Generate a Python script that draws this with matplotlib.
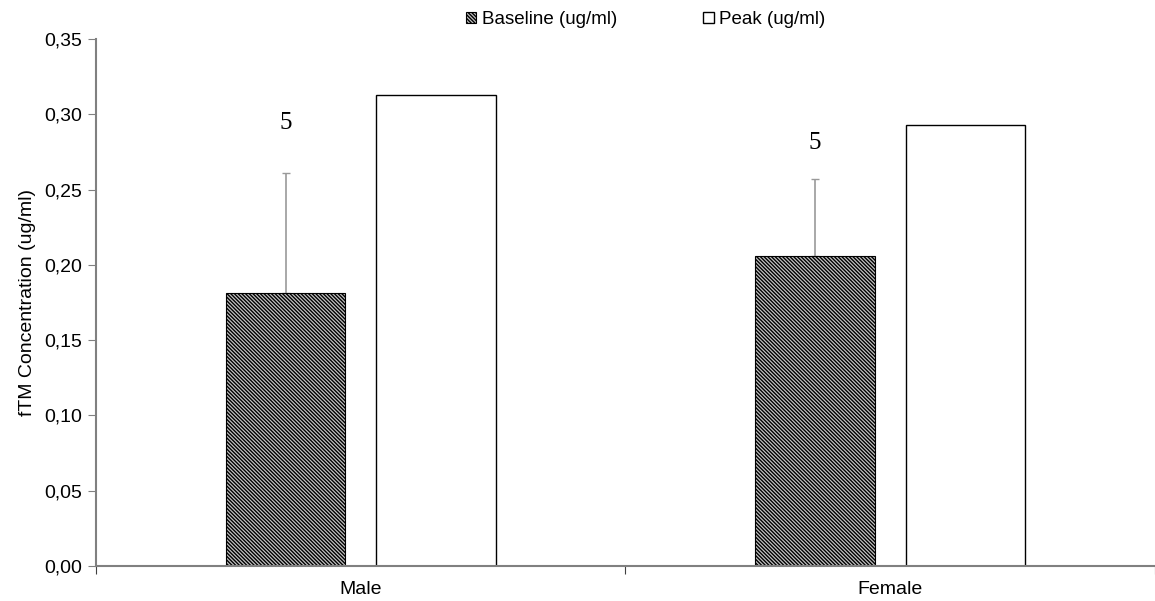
import matplotlib.pyplot as plt
import numpy as np

plt.rcParams['font.family'] = ['Liberation Sans', 'DejaVu Sans']
plt.rcParams['hatch.linewidth'] = 1.0

categories = ['Male', 'Female']
baseline = [0.181, 0.206]
baseline_err = [0.080, 0.051]
peak = [0.313, 0.293]
n_labels = ['5', '5']
n_label_y = [0.294, 0.281]

fig = plt.figure(figsize=(11.55, 6.01), dpi=100)
ax = fig.add_axes([0.0831, 0.0582, 0.9169, 0.8769])

x = np.arange(len(categories))
w = 0.226
off = 0.142

ax.bar(x - off, baseline, w, facecolor='#c4c4c4', edgecolor='black',
       hatch='\\\\\\\\\\\\\\\\\\', linewidth=0.8, label='Baseline (ug/ml)', zorder=2)
ax.errorbar(x - off, baseline, yerr=[np.zeros(len(baseline)), baseline_err],
            fmt='none', ecolor='#999999', elinewidth=1.2, capsize=3, zorder=1)
ax.bar(x + off, peak, w, facecolor='white', edgecolor='black',
       linewidth=1.0, label='Peak (ug/ml)', zorder=2)

for xi, t, ty in zip(x - off, n_labels, n_label_y):
    ax.text(xi, ty, t, ha='center', va='center', fontsize=18,
            family='Liberation Serif')

ax.set_xlim(-0.5, 1.49)
ax.set_ylim(0, 0.35)
yt = np.arange(0, 0.351, 0.05)
ax.set_yticks(yt)
ax.set_yticklabels([f'{v:.2f}'.replace('.', ',') for v in yt], fontsize=14)
ax.set_xticks([-0.5, 0.5, 1.5])
ax.set_xticklabels([])
ax.set_xticks(x, minor=True)
ax.set_xticklabels(categories, minor=True, fontsize=14)
ax.tick_params(axis='x', which='minor', length=0, pad=11)
ax.tick_params(axis='x', which='major', length=6, color='#404040')
ax.tick_params(axis='y', length=6, color='#808080', pad=4)
ax.set_ylabel('fTM Concentration (ug/ml)', fontsize=14, labelpad=6)

for s in ['top', 'right']:
    ax.spines[s].set_visible(False)
for s in ['left', 'bottom']:
    ax.spines[s].set_color('#808080')
    ax.spines[s].set_linewidth(1.5)

fig.legend(loc='upper center', bbox_to_anchor=(0.559, 1.01), ncol=2,
           frameon=False, fontsize=13.5, handlelength=0.55, handleheight=0.55,
           handletextpad=0.3, columnspacing=4.6)

fig.savefig('out.png', dpi=100)
